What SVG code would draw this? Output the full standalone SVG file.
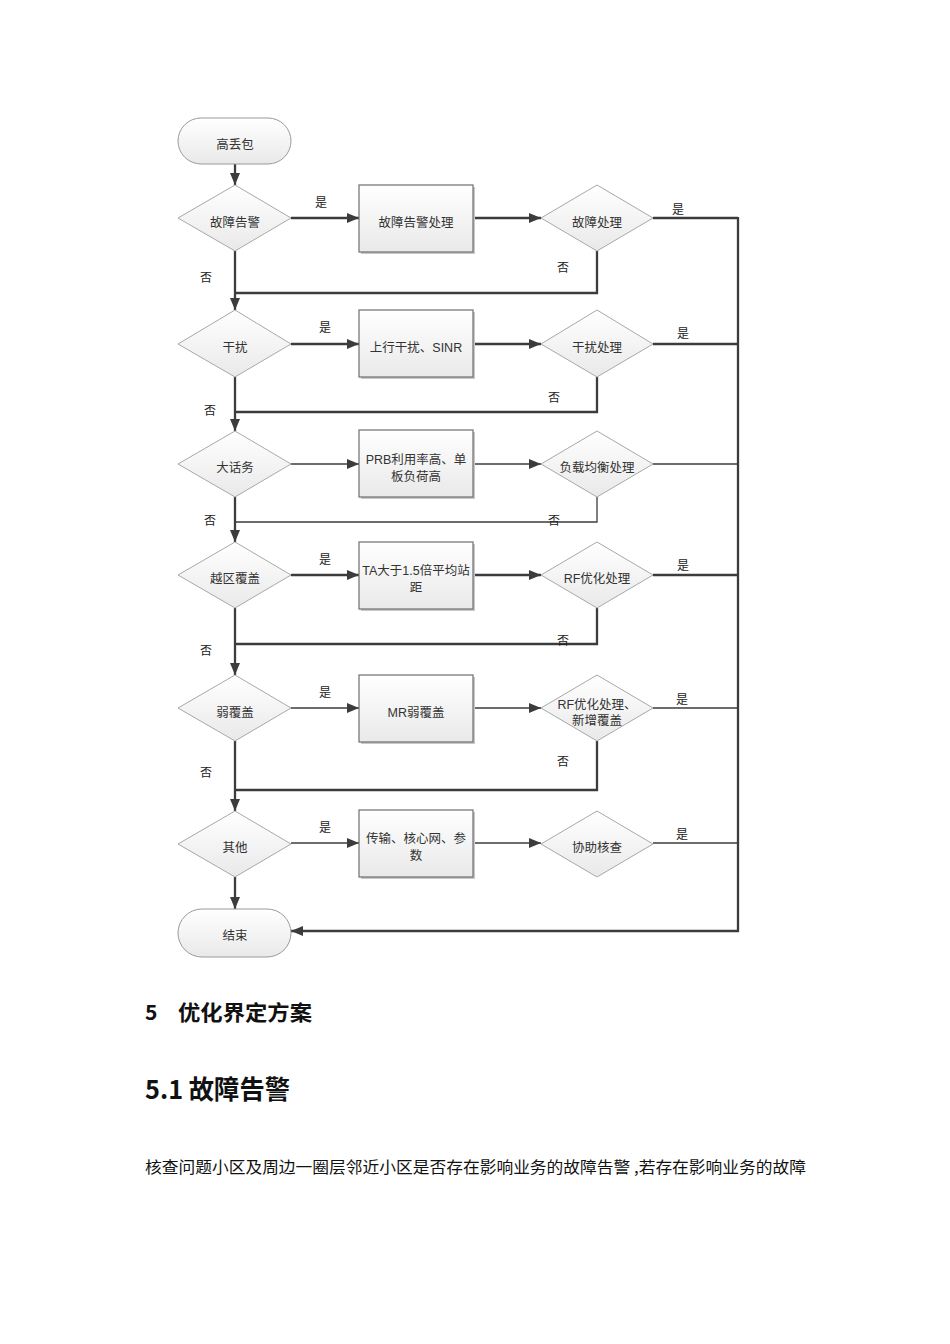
<svg xmlns="http://www.w3.org/2000/svg" width="950" height="1344" viewBox="0 0 950 1344">
<style>
.t{font-family:"Liberation Sans","Noto Sans CJK SC",sans-serif;font-size:12.5px;fill:#333;text-anchor:middle}
.l{font-family:"Liberation Sans","Noto Sans CJK SC",sans-serif;font-size:12px;fill:#222;text-anchor:middle}
.dia{fill:url(#g);stroke:#a8a8a8;stroke-width:1}
.box{fill:url(#g);stroke:#6e6e6e;stroke-width:1.2}
.sh{fill:#c8c8c8}
.term{fill:url(#g);stroke:#9a9a9a;stroke-width:1}
.k{fill:none;stroke:#3c3c3c;stroke-width:2.3}
.n{fill:none;stroke:#3c3c3c;stroke-width:1.3}
.h{font-family:"Noto Sans CJK SC","Liberation Sans",sans-serif;font-weight:bold;fill:#111}
.b{font-family:"Noto Sans CJK SC","Liberation Sans",sans-serif;fill:#111;font-size:16px}
</style>
<defs>
<linearGradient id="g" x1="0" y1="0" x2="0" y2="1"><stop offset="0" stop-color="#ffffff"/><stop offset="1" stop-color="#e9e9e9"/></linearGradient>
<marker id="a" viewBox="0 0 12 10" refX="12" refY="5" markerWidth="12" markerHeight="10" markerUnits="userSpaceOnUse" orient="auto"><path d="M0 0 L12 5 L0 10 Z" fill="#3c3c3c"/></marker>
</defs>

<g id="connectors">
<path class="k" d="M235 164 V185" marker-end="url(#a)"/>
<path class="k" d="M235 251 V310" marker-end="url(#a)"/>
<path class="k" d="M235 377 V431" marker-end="url(#a)"/>
<path class="k" d="M235 497 V542" marker-end="url(#a)"/>
<path class="k" d="M235 608 V675" marker-end="url(#a)"/>
<path class="k" d="M235 741 V811" marker-end="url(#a)"/>
<path class="k" d="M235 877 V909" marker-end="url(#a)"/>
<path class="k" d="M291 218 H359" marker-end="url(#a)"/>
<path class="k" d="M473 218 H541" marker-end="url(#a)"/>
<path class="k" d="M653 218 H738"/>
<path class="k" d="M597 251 V293 H235"/>
<path class="k" d="M291 344 H359" marker-end="url(#a)"/>
<path class="k" d="M473 344 H541" marker-end="url(#a)"/>
<path class="k" d="M653 344 H738"/>
<path class="k" d="M597 377 V412 H235"/>
<path class="n" d="M291 464 H359" marker-end="url(#a)"/>
<path class="n" d="M473 464 H541" marker-end="url(#a)"/>
<path class="n" d="M653 464 H738"/>
<path class="n" d="M597 497 V522 H235"/>
<path class="k" d="M291 575 H359" marker-end="url(#a)"/>
<path class="k" d="M473 575 H541" marker-end="url(#a)"/>
<path class="k" d="M653 575 H738"/>
<path class="k" d="M597 608 V644 H235"/>
<path class="n" d="M291 708 H359" marker-end="url(#a)"/>
<path class="n" d="M473 708 H541" marker-end="url(#a)"/>
<path class="n" d="M653 708 H738"/>
<path class="k" d="M597 741 V790 H235"/>
<path class="n" d="M291 843 H359" marker-end="url(#a)"/>
<path class="n" d="M473 843 H541" marker-end="url(#a)"/>
<path class="n" d="M653 843 H738"/>
<path class="k" d="M738 217 V931 H291" marker-end="url(#a)"/>
<text class="l" x="321" y="207">是</text>
<text class="l" x="206" y="282">否</text>
<text class="l" x="678" y="214">是</text>
<text class="l" x="563" y="272">否</text>
<text class="l" x="325" y="332">是</text>
<text class="l" x="210" y="415">否</text>
<text class="l" x="683" y="338">是</text>
<text class="l" x="554" y="402">否</text>
<text class="l" x="210" y="525">否</text>
<text class="l" x="554" y="525">否</text>
<text class="l" x="325" y="564">是</text>
<text class="l" x="683" y="570">是</text>
<text class="l" x="206" y="655">否</text>
<text class="l" x="563" y="645">否</text>
<text class="l" x="325" y="697">是</text>
<text class="l" x="682" y="704">是</text>
<text class="l" x="206" y="777">否</text>
<text class="l" x="563" y="766">否</text>
<text class="l" x="325" y="832">是</text>
<text class="l" x="682" y="839">是</text>
</g>

<g id="start"><rect class="term" x="178" y="118" width="113" height="46" rx="23"/><text class="t" x="235" y="149">高丢包</text></g>

<g id="d1"><path class="dia" d="M178 218 L235 185 L291 218 L235 251 Z"/><text class="t" x="235" y="227">故障告警</text></g>
<g id="r1"><rect class="sh" x="361" y="187" width="114" height="67"/><rect class="box" x="359" y="185" width="114" height="67"/><text class="t" x="416" y="227">故障告警处理</text></g>
<g id="p1"><path class="dia" d="M541 218 L597 185 L653 218 L597 251 Z"/><text class="t" x="597" y="227">故障处理</text></g>

<g id="d2"><path class="dia" d="M178 344 L235 310 L291 344 L235 377 Z"/><text class="t" x="235" y="352">干扰</text></g>
<g id="r2"><rect class="sh" x="361" y="312" width="114" height="67"/><rect class="box" x="359" y="310" width="114" height="67"/><text class="t" x="416" y="352">上行干扰、SINR</text></g>
<g id="p2"><path class="dia" d="M541 344 L597 310 L653 344 L597 377 Z"/><text class="t" x="597" y="352">干扰处理</text></g>

<g id="d3"><path class="dia" d="M178 464 L235 431 L291 464 L235 497 Z"/><text class="t" x="235" y="472">大话务</text></g>
<g id="r3"><rect class="sh" x="361" y="432" width="114" height="67"/><rect class="box" x="359" y="430" width="114" height="67"/><text class="t" x="416" y="464">PRB利用率高、单</text><text class="t" x="416" y="481">板负荷高</text></g>
<g id="p3"><path class="dia" d="M541 464 L597 431 L653 464 L597 497 Z"/><text class="t" x="597" y="472">负载均衡处理</text></g>

<g id="d4"><path class="dia" d="M178 575 L235 542 L291 575 L235 608 Z"/><text class="t" x="235" y="583">越区覆盖</text></g>
<g id="r4"><rect class="sh" x="361" y="544" width="114" height="67"/><rect class="box" x="359" y="542" width="114" height="67"/><text class="t" x="416" y="575">TA大于1.5倍平均站</text><text class="t" x="416" y="592">距</text></g>
<g id="p4"><path class="dia" d="M541 575 L597 542 L653 575 L597 608 Z"/><text class="t" x="597" y="583">RF优化处理</text></g>

<g id="d5"><path class="dia" d="M178 708 L235 675 L291 708 L235 741 Z"/><text class="t" x="235" y="717">弱覆盖</text></g>
<g id="r5"><rect class="sh" x="361" y="677" width="114" height="67"/><rect class="box" x="359" y="675" width="114" height="67"/><text class="t" x="416" y="717">MR弱覆盖</text></g>
<g id="p5"><path class="dia" d="M541 708 L597 675 L653 708 L597 741 Z"/><text class="t" x="597" y="709">RF优化处理、</text><text class="t" x="597" y="725">新增覆盖</text></g>

<g id="d6"><path class="dia" d="M178 844 L235 811 L291 844 L235 877 Z"/><text class="t" x="235" y="852">其他</text></g>
<g id="r6"><rect class="sh" x="361" y="812" width="114" height="67"/><rect class="box" x="359" y="810" width="114" height="67"/><text class="t" x="416" y="843">传输、核心网、参</text><text class="t" x="416" y="860">数</text></g>
<g id="p6"><path class="dia" d="M541 844 L597 811 L653 844 L597 877 Z"/><text class="t" x="597" y="852">协助核查</text></g>

<g id="end"><rect class="term" x="178" y="909" width="113" height="48" rx="24"/><text class="t" x="235" y="940">结束</text></g>

<g id="page">
<text class="h" x="145" y="1020" font-size="21">5</text>
<text class="h" x="178" y="1020" font-size="21" textLength="134" lengthAdjust="spacingAndGlyphs">优化界定方案</text>
<text class="h" x="145" y="1099" font-size="26" textLength="145" lengthAdjust="spacingAndGlyphs">5.1 故障告警</text>
<text class="b" x="145" y="1173" textLength="661" lengthAdjust="spacingAndGlyphs">核查问题小区及周边一圈层邻近小区是否存在影响业务的故障告警 ,若存在影响业务的故障</text>
</g>
</svg>
